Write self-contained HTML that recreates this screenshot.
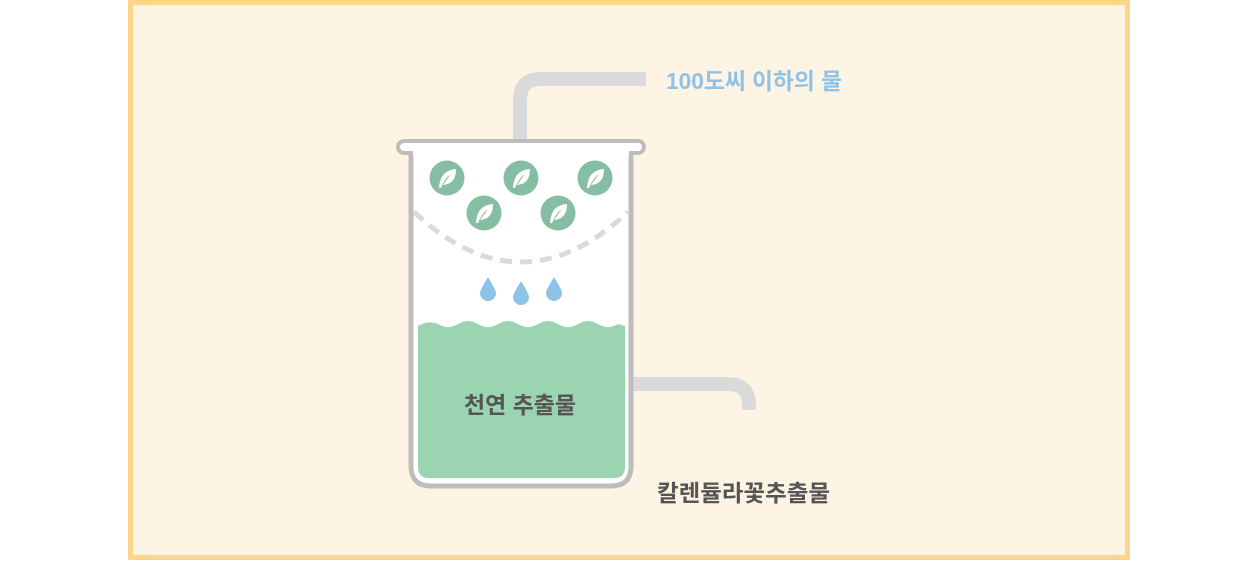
<!DOCTYPE html>
<html><head><meta charset="utf-8"><style>
html,body{margin:0;padding:0;background:#fff;}
body{width:1260px;height:560px;overflow:hidden;}
text{font-family:"Liberation Sans","Noto Sans CJK KR","NanumGothic",sans-serif;font-weight:bold;}
</style></head><body>
<svg width="1260" height="560" viewBox="0 0 1260 560" xmlns="http://www.w3.org/2000/svg">
<rect x="130.5" y="2.5" width="997" height="555" fill="#fef4e3" stroke="#fdd58a" stroke-width="5"/>
<path d="M520 145 V100 Q520 79 541 79 H646" fill="none" stroke="#dadada" stroke-width="14"/>
<path d="M630 384 H728 Q749 384 749 405 V410" fill="none" stroke="#dadada" stroke-width="14"/>
<path d="M411 150 V466 Q411 486 431 486 H611 Q631 486 631 466 V150 Z" fill="#fff" stroke="#bdbdbd" stroke-width="5"/>
<rect x="398" y="141" width="246" height="12" rx="6" fill="#fff" stroke="#bdbdbd" stroke-width="4"/>
<rect x="413" y="150" width="216" height="6" fill="#fff"/>
<path d="M418 326 Q428 320 438 324 Q448 330 458 324 Q468 318 478 324 Q488 330 498 324 Q508 318 518 324 Q528 330 538 324 Q548 318 558 324 Q568 330 578 324 Q588 318 598 324 Q608 330 618 324 L625 326 V467 Q625 478 614 478 H429 Q418 478 418 467 Z" fill="#9ad4b0"/>
<path d="M414 212 Q521 312 628 212" fill="none" stroke="#dadada" stroke-width="5" stroke-dasharray="12 8"/>
<g fill="#86bea4">
<circle cx="447" cy="178" r="17.5"/><circle cx="521" cy="178" r="17.5"/><circle cx="595" cy="178" r="17.5"/>
<circle cx="484" cy="213" r="17.5"/><circle cx="558" cy="213" r="17.5"/>
</g>
<g fill="#fff">
<path d="M439 188 Q440 170 456 169 Q456 184 443 185 Q448 178 451 174 Q445 178 441 188 Z"/>
<path d="M513 188 Q514 170 530 169 Q530 184 517 185 Q522 178 525 174 Q519 178 515 188 Z"/>
<path d="M587 188 Q588 170 604 169 Q604 184 591 185 Q596 178 599 174 Q593 178 589 188 Z"/>
<path d="M476 223 Q477 205 493 204 Q493 219 480 220 Q485 213 488 209 Q482 213 478 223 Z"/>
<path d="M550 223 Q551 205 567 204 Q567 219 554 220 Q559 213 562 209 Q556 213 552 223 Z"/>
</g>
<g fill="#8ec3e7">
<path d="M488 277 Q480 290 480 293 A8 8 0 0 0 496 293 Q496 290 488 277 Z"/>
<path d="M521 281 Q513 294 513 297 A8 8 0 0 0 529 297 Q529 294 521 281 Z"/>
<path d="M554 277 Q546 290 546 293 A8 8 0 0 0 562 293 Q562 290 554 277 Z"/>
</g>
<text x="666" y="89" font-size="23" fill="#8ec3e7" textLength="176" lengthAdjust="spacingAndGlyphs">100도씨 이하의 물</text>
<text x="464" y="413" font-size="23" fill="#555" textLength="112" lengthAdjust="spacingAndGlyphs">천연 추출물</text>
<text x="657" y="501" font-size="23" fill="#555" textLength="173" lengthAdjust="spacingAndGlyphs">칼렌듈라꽃추출물</text>
</svg>
</body></html>
